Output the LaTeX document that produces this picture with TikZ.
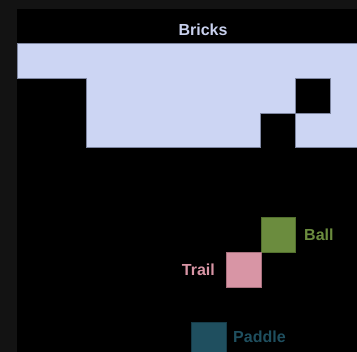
\documentclass[tikz,border=0pt]{standalone}
\usepackage{fontspec}
\setmainfont{Liberation Sans}
\definecolor{outer}{HTML}{131313}
\definecolor{brick}{HTML}{CCD5F3}
\definecolor{brickedge}{HTML}{7E86A0}
\definecolor{brickt}{HTML}{C9D1EE}
\definecolor{ballc}{HTML}{6B8C3E}
\definecolor{balle}{HTML}{53702E}
\definecolor{trailc}{HTML}{D895A5}
\definecolor{traile}{HTML}{A8717E}
\definecolor{paddlec}{HTML}{1F4F5F}
\definecolor{paddlee}{HTML}{163B48}
\begin{document}
\begin{tikzpicture}[x=1pt,y=-1pt,
  cellbox/.style={rectangle,inner sep=0pt,minimum size=34.8pt,anchor=north west,line width=0.8pt},
  lbl/.style={inner sep=0pt,font=\bfseries\fontsize{16}{19}\selectfont}]
\useasboundingbox (0,0) rectangle (357,352);
\clip (0,0) rectangle (357,352);
\fill[outer] (0,0) rectangle (357,352);
\fill[black] (17,9) rectangle (357,352);
% bricks
\draw[fill=brick,draw=brickedge,line width=0.6pt]
  (17,43.3) -- (360,43.3) -- (360,147.7) -- (295.4,147.7) -- (295.4,112.9)
  -- (260.6,112.9) -- (260.6,147.7) -- (86.6,147.7) -- (86.6,78.1) -- (17,78.1) -- cycle;
\node[cellbox,fill=black,draw=brickedge,line width=0.6pt] (hole) at (295.4,78.1) {};
\node[lbl,text=brickt] (bricks) at (203,30) {Bricks};
% ball, trail, paddle
\node[cellbox,fill=ballc,draw=balle] (ball) at (260.6,217.5) {};
\node[cellbox,fill=trailc,draw=traile] (trail) at (225.8,252.3) {};
\node[cellbox,fill=paddlec,draw=paddlee] (paddle) at (191,322) {};
\node[lbl,text=ballc,anchor=west] (balll) at (304,235) {Ball};
\node[lbl,text=trailc,anchor=east] (traill) at (215,269.5) {Trail};
\node[lbl,text=paddlec,anchor=west] (paddlel) at (233,337) {Paddle};
\end{tikzpicture}
\end{document}
